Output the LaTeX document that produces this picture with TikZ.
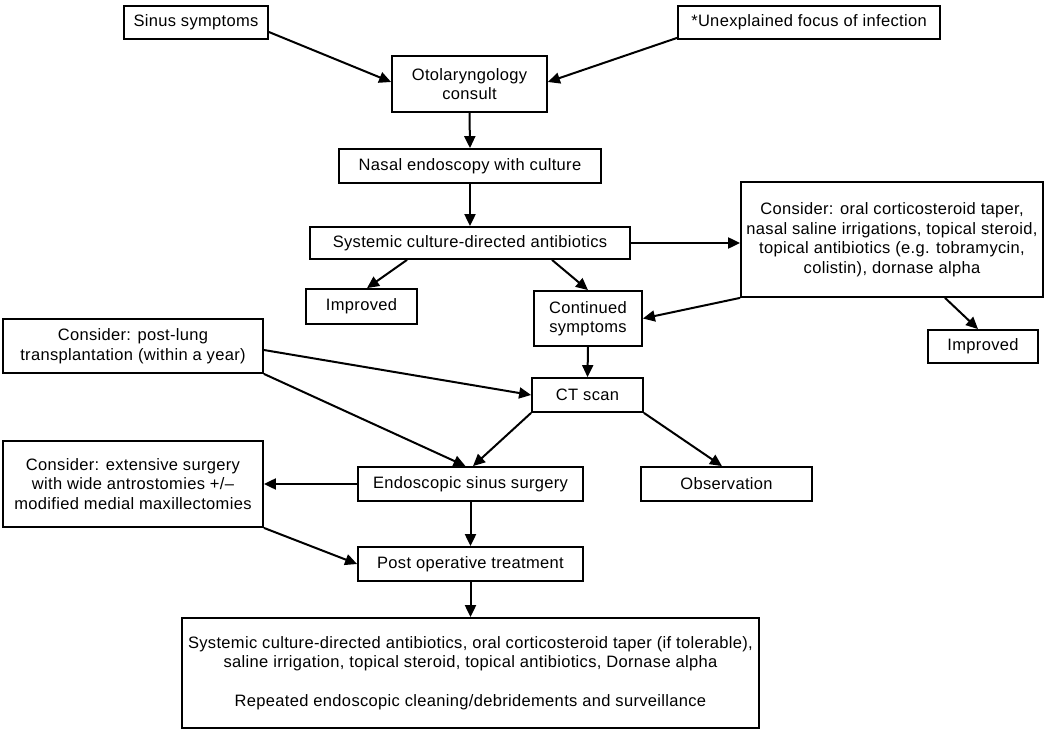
\documentclass[tikz,border=0pt]{standalone}
\usepackage{fontspec}
\setmainfont{Liberation Sans}[LetterSpace=2]
\usetikzlibrary{arrows.meta,calc}
\begin{document}
\begin{tikzpicture}[x=1pt,y=1pt,
  box/.style={draw, line width=1.8pt, rectangle, inner sep=0pt, align=center,
    font=\fontsize{16.5}{19.5}\selectfont},
  arr/.style={-{Triangle[length=12pt,width=11pt]}, line width=2pt}]
\fill[white] (0,0) rectangle (1050,-730);
\useasboundingbox (0,0) rectangle (1050,-730);
% nodes (x, -y) centres in image pixels
\node[box, minimum width=144, minimum height=33] (sinus) at (196,-22.5) {Sinus symptoms};
\node[box, minimum width=262, minimum height=33] (unexpl) at (809,-22.5) {*Unexplained focus of infection};
\node[box, minimum width=155, minimum height=56] (oto) at (469.5,-84) {Otolaryngology\\consult};
\node[box, minimum width=262, minimum height=34] (nasal) at (470,-166) {Nasal endoscopy with culture};
\node[box, minimum width=320, minimum height=32] (sys) at (470,-243) {Systemic culture-directed antibiotics};
\node[box, minimum width=302, minimum height=115] (rcons) at (892,-239.5) {Consider: oral corticosteroid taper,\\nasal saline irrigations, topical steroid,\\topical antibiotics (e.g. tobramycin,\\colistin), dornase alpha};
\node[box, minimum width=111, minimum height=35] (impL) at (361.5,-306.5) {Improved};
\node[box, minimum width=108, minimum height=55] (cont) at (588,-318.5) {Continued\\symptoms};
\node[box, minimum width=110, minimum height=33] (impR) at (983,-346.5) {Improved};
\node[box, minimum width=260, minimum height=54] (plung) at (133,-346) {Consider: post-lung\\transplantation (within a year)};
\node[box, minimum width=111, minimum height=34] (ct) at (587.5,-395) {CT scan};
\node[box, minimum width=260, minimum height=86] (ext) at (133,-484) {Consider: extensive surgery\\with wide antrostomies +/–\\modified medial maxillectomies};
\node[box, minimum width=225, minimum height=34] (endo) at (470.5,-484) {Endoscopic sinus surgery};
\node[box, minimum width=171, minimum height=34] (obs) at (726.5,-484) {Observation};
\node[box, minimum width=225, minimum height=34] (postop) at (470.5,-564) {Post operative treatment};
\node[box, minimum width=577, minimum height=110] (final) at (470.5,-673) {Systemic culture-directed antibiotics, oral corticosteroid taper (if tolerable),\\saline irrigation, topical steroid, topical antibiotics, Dornase alpha\\[19.5pt]Repeated endoscopic cleaning/debridements and surveillance};
% connectors
\draw[arr] ($(sinus.east)+(0,-9.5)$) -- ($(oto.west)+(0,2)$);
\draw[arr] ($(unexpl.south west)+(0,2)$) -- ($(oto.east)+(0,2)$);
\draw[arr] (oto.south) -- (nasal.north);
\draw[arr] (nasal.south) -- (sys.north);
\draw[arr] ($(sys.south)+(-63,0)$) -- ($(impL.north)+(5.5,0)$);
\draw[arr] ($(sys.south)+(82,0)$) -- (cont.north);
\draw[arr] (sys.east) -- (sys.east -| rcons.west);
\draw[arr] ($(rcons.south)+(53,0)$) -- ($(impR.north)+(-5,0)$);
\draw[arr] (rcons.south west) -- (cont.east);
\draw[arr] (cont.south) -- (ct.north);
\draw[arr] ($(plung.east)+(0,-4)$) -- (ct.west);
\draw[arr] (plung.south east) -- ($(endo.north)+(-5,0)$);
\draw[arr] (ct.south west) -- ($(endo.north)+(2.5,0)$);
\draw[arr] (ct.south east) -- ($(obs.north)+(-4.5,0)$);
\draw[arr] (endo.west) -- (endo.west -| ext.east);
\draw[arr] (endo.south) -- (postop.north);
\draw[arr] (ext.south east) -- (postop.west);
\draw[arr] (postop.south) -- (final.north);
\end{tikzpicture}
\end{document}
